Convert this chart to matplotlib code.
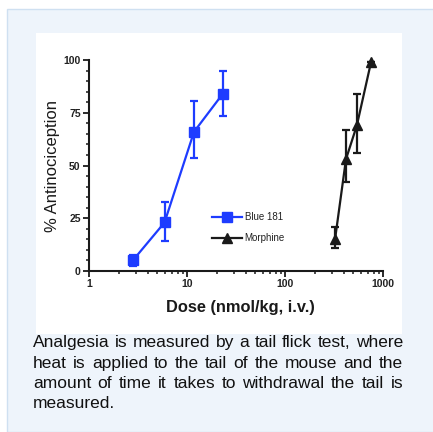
import numpy as np
import matplotlib
matplotlib.use("Agg")
import matplotlib.pyplot as plt
from matplotlib.patches import Rectangle
from matplotlib.ticker import LogLocator, MultipleLocator, FixedLocator, NullFormatter

# data
blue_dose = [2.8, 5.9, 11.8, 23.2]
blue_resp = [5, 23, 66, 84]
blue_err_lo = [2.5, 9, 12.5, 10.5]
blue_err_hi = [2.5, 9.5, 14.5, 11]

morph_dose = [324, 419, 541, 755]
morph_resp = [15, 53, 69, 99]
morph_err_lo = [4, 11, 13, 0]
morph_err_hi = [6, 14, 15, 0]

x_ticks = [1, 10, 100, 1000]
x_tick_labels = ["1", "10", "100", "1000"]
y_ticks = [0, 25, 50, 75, 100]

caption = ["Analgesia is measured by a tail flick test, where",
           "heat is applied to the tail of the mouse and the",
           "amount of time it takes to withdrawal the tail is",
           "measured."]

W, H = 433, 432
plt.rcParams['font.family'] = ['Liberation Sans', 'DejaVu Sans']
fig = plt.figure(figsize=(W / 100, H / 100), dpi=100)
fig.patch.set_facecolor("white")

# light blue panel and white inset for the chart
fig.patches.append(Rectangle((7 / W, 0), 1, 1 - 9 / H, transform=fig.transFigure,
                             facecolor="#eef4fb", edgecolor="#cfe0f1", lw=1, zorder=0))
fig.patches.append(Rectangle((36 / W, 1 - 334 / H), 366 / W, 301 / H, transform=fig.transFigure,
                             facecolor="white", edgecolor="none", zorder=0))

ax = fig.add_axes([89 / W, 1 - 271 / H, 294 / W, 211 / H])
ax.set_zorder(5)
ax.patch.set_alpha(0)

blue = "#1e3cff"
eb1 = ax.errorbar(blue_dose, blue_resp, yerr=[blue_err_lo, blue_err_hi], color=blue, marker="s",
                  markersize=7, lw=1.6, elinewidth=1.6, capsize=3, capthick=1.6,
                  label="Blue 181", clip_on=False, zorder=3)
eb2 = ax.errorbar(morph_dose, morph_resp, yerr=[morph_err_lo, morph_err_hi], color="#1a1a1a", marker="^",
                  markersize=7.5, lw=1.6, elinewidth=1.6, capsize=3, capthick=1.6,
                  label="Morphine", clip_on=False, zorder=3)

ax.set_xscale("log")
ax.set_xlim(1, 1000)
ax.set_ylim(0, 100)
ax.xaxis.set_major_locator(FixedLocator(x_ticks))
ax.set_xticklabels(x_tick_labels)
ax.xaxis.set_minor_locator(LogLocator(base=10, subs=np.arange(2, 10)))
ax.xaxis.set_minor_formatter(NullFormatter())
ax.set_yticks(y_ticks)
ax.yaxis.set_minor_locator(MultipleLocator(5))

for s in ["top", "right"]:
    ax.spines[s].set_visible(False)
for s in ["left", "bottom"]:
    ax.spines[s].set_linewidth(1.5)
    ax.spines[s].set_color("#1a1a1a")

ax.tick_params(which="major", direction="out", length=4, width=1.3, color="#1a1a1a",
               labelsize=7.5, pad=2, labelcolor="#222222")
ax.tick_params(which="minor", direction="out", length=2.5, width=1.1, color="#1a1a1a")
for lab in ax.get_xticklabels() + ax.get_yticklabels():
    lab.set_fontweight("bold")

ax.set_ylabel("% Antinociception", fontsize=12, color="#1a1a1a", va="center")
ax.yaxis.set_label_coords(-0.125, 0.5)
ax.set_xlabel("Dose (nmol/kg, i.v.)", fontsize=11.8, fontweight="bold", color="#1a1a1a", va="center")
ax.xaxis.set_label_coords(0.515, -0.175)

# legend shows only line + marker, no error bars
leg = ax.legend(handles=[eb1.lines[0], eb2.lines[0]], labels=["Blue 181", "Morphine"],
                loc="center left", bbox_to_anchor=(0.42, 0.205), frameon=False, fontsize=7,
                handlelength=3.0, handletextpad=0.3, labelspacing=1.1, borderaxespad=0,
                numpoints=1, borderpad=0)
for t in leg.get_texts():
    t.set_color("#222222")

# caption, justified to the inset width
renderer = fig.canvas.get_renderer()
x0, x1 = 33, 403
baselines = [347, 368, 388, 408]
for i, line in enumerate(caption):
    yb = 1 - baselines[i] / H
    if i == len(caption) - 1:
        fig.text(x0 / W, yb, line, fontsize=12.5, color="#111111", va="baseline")
        continue
    words = line.split()
    texts = [fig.text(0, yb, w, fontsize=12.5, color="#111111", va="baseline") for w in words]
    widths = [t.get_window_extent(renderer).width for t in texts]
    gap = (x1 - x0 - sum(widths)) / (len(words) - 1)
    x = x0
    for t, w in zip(texts, widths):
        t.set_x(x / W)
        x += w + gap

fig.savefig("out.png", dpi=100)
